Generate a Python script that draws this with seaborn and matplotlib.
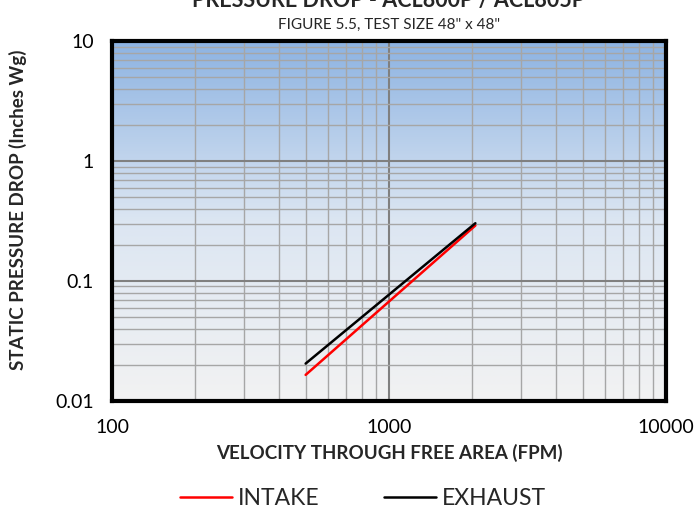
import numpy as np
import pandas as pd
import matplotlib
matplotlib.use("Agg")
import matplotlib.pyplot as plt
import seaborn as sns
from matplotlib.ticker import FixedLocator, FixedFormatter, NullFormatter, LogLocator
from matplotlib.colors import LinearSegmentedColormap
from matplotlib.lines import Line2D

# ---- data ----
series_names = ["INTAKE", "EXHAUST"]
intake_velocity = [500, 2050]
intake_pressure = [0.0165, 0.29]
exhaust_velocity = [500, 2050]
exhaust_pressure = [0.0205, 0.303]
x_tick_values = [100, 1000, 10000]
x_tick_labels = ["100", "1000", "10000"]
y_tick_values = [0.01, 0.1, 1, 10]
y_tick_labels = ["0.01", "0.1", "1", "10"]

sns.set_theme(style="white")
plt.rcParams['font.family'] = ['Lato', 'DejaVu Sans']

df = pd.DataFrame({
    "velocity": intake_velocity + exhaust_velocity,
    "pressure": intake_pressure + exhaust_pressure,
    "series": [series_names[0]] * len(intake_velocity) + [series_names[1]] * len(exhaust_velocity),
})

fig = plt.figure(figsize=(6.94, 5.18), dpi=100)
ax = fig.add_axes([0.1614, 0.2259, 0.7983, 0.6949])

# gradient background
cmap = LinearSegmentedColormap.from_list("bg", ["#f2f2f2", "#dce6f2", "#8db3e2"])
grad = np.linspace(0, 1, 256).reshape(-1, 1)
ax.imshow(grad, aspect="auto", cmap=cmap, origin="lower",
          extent=[0, 1, 0, 1], transform=ax.transAxes, zorder=0)

sns.lineplot(data=df, x="velocity", y="pressure", hue="series",
             palette={"INTAKE": "#ff0000", "EXHAUST": "#000000"},
             linewidth=1.8, ax=ax, legend=False, zorder=5)

ax.set_xscale("log")
ax.set_yscale("log")
ax.set_xlim(100, 10000)
ax.set_ylim(0.01, 10)

ax.xaxis.set_major_locator(FixedLocator(x_tick_values))
ax.xaxis.set_major_formatter(FixedFormatter(x_tick_labels))
ax.yaxis.set_major_locator(FixedLocator(y_tick_values))
ax.yaxis.set_major_formatter(FixedFormatter(y_tick_labels))
ax.xaxis.set_minor_locator(LogLocator(base=10, subs=np.arange(2, 10)))
ax.yaxis.set_minor_locator(LogLocator(base=10, subs=np.arange(2, 10)))
ax.xaxis.set_minor_formatter(NullFormatter())
ax.yaxis.set_minor_formatter(NullFormatter())

ax.grid(True, which="minor", color="#a6a6a6", linewidth=1.0, zorder=1)
ax.grid(True, which="major", color="#808080", linewidth=1.5, zorder=1)

ax.tick_params(axis="both", which="both", length=0, labelsize=14, colors="#000000")
ax.tick_params(axis="x", pad=13)
ax.tick_params(axis="y", pad=13)

for s in ax.spines.values():
    s.set_color("black")
    s.set_linewidth(3)
    s.set_zorder(10)

ax.set_xlabel("VELOCITY THROUGH FREE AREA (FPM)", fontsize=13.5, fontweight="bold", va="center")
ax.xaxis.set_label_coords(0.5, -0.144)
ax.set_ylabel("STATIC PRESSURE DROP (Inches Wg)", fontsize=13.5, fontweight="bold", va="center")
ax.yaxis.set_label_coords(-0.170, 0.531)

title_x = 0.5605
fig.text(title_x, 1 - 25 / 518, 'FIGURE 5.5, TEST SIZE 48" x 48"', ha="center", va="center", fontsize=11)
fig.text(title_x, 1 - 7 / 518, "PRESSURE DROP - ACL800P / ACL805P", ha="center", va="baseline",
         fontsize=15.5, fontweight="bold")

handles = [Line2D([], [], color="#ff0000", linewidth=1.8),
           Line2D([], [], color="#000000", linewidth=1.8)]
fig.legend(handles, series_names, loc="center", bbox_to_anchor=(0.523, 0.037), ncol=2,
           frameon=False, fontsize=16.5, handlelength=2.26, handletextpad=0.26,
           columnspacing=2.8, borderpad=0)

fig.savefig("out.png", dpi=100)
